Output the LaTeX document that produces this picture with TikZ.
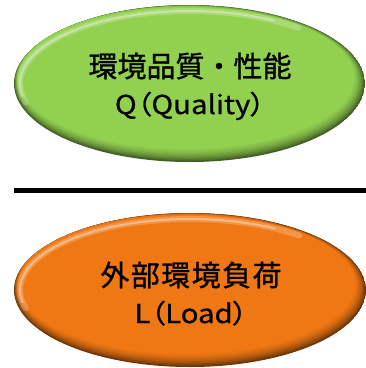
\documentclass[tikz,border=0pt]{standalone}
\usepackage{fontspec}
\newfontfamily\jpfont[FakeBold=1.0]{Noto Sans CJK JP}
\newfontfamily\jpwidefont[FakeBold=1.0, LetterSpace=5]{Noto Sans CJK JP}
\newfontfamily\jppfont[RawFeature=+palt, FakeStretch=1.13, FakeBold=0.8]{Noto Sans CJK JP}
\definecolor{qgreen}{HTML}{92D050}
\definecolor{lorange}{HTML}{F07814}
\newcommand\bevelellipse[5]{%
  \begin{scope}
    \clip (#1,#2) ellipse [x radius=#3, y radius=#4];
    \fill[#5!45!black] (#1,#2) ellipse [x radius=#3, y radius=#4];
    \foreach \k/\p in {1/56,2/66,3/74,4/81,5/87,6/92,7/96,8/100}{
      \fill[#5!\p!black] ({#1-0.4*\k},{#2-0.7*\k}) ellipse [x radius={#3-0.9*\k}, y radius={#4-0.9*\k}];
    }
    \begin{scope}[shift={(#1,#2)}]
      \pgfmathsetmacro\ra{#3-6}
      \pgfmathsetmacro\rb{#4-6}
      \draw[white, opacity=0.22, line width=6pt, line cap=round]
        (165:\ra\space and \rb) arc[start angle=165, end angle=310, x radius=\ra, y radius=\rb];
      \draw[white, opacity=0.35, line width=2pt, line cap=round]
        (170:\ra\space and \rb) arc[start angle=170, end angle=300, x radius=\ra, y radius=\rb];
    \end{scope}
  \end{scope}}
\begin{document}
\begin{tikzpicture}[x=1pt, y=-1pt,
  kanji/.style={font=\jpfont\fontsize{29}{29}\selectfont, text=black, anchor=base, inner sep=0pt},
  kanjiwide/.style={font=\jpwidefont\fontsize{29}{29}\selectfont, text=black, anchor=base, inner sep=0pt},
  latin/.style={font=\jppfont\fontsize{26}{26}\selectfont, text=black, anchor=base, inner sep=0pt},
  rule/.style={line width=5.5pt, black}]
  \useasboundingbox (0,0) rectangle (366,368);
  % green ellipse
  \bevelellipse{189.5}{83.5}{175.5}{78.5}{qgreen}
  \node[kanji] (q1) at (190,77) {環境品質・性能};
  \node[latin] (q2) at (190,114) {Q（Quality）};
  % separator line
  \coordinate (l1) at (14,190.5);
  \coordinate (l2) at (366,190.5);
  \draw[rule] (l1) -- (l2);
  % orange ellipse
  \bevelellipse{190}{290}{176}{77}{lorange}
  \node[kanjiwide] (o1) at (191,286) {外部環境負荷};
  \node[latin] (o2) at (191,323) {L（Load）};
\end{tikzpicture}
\end{document}
